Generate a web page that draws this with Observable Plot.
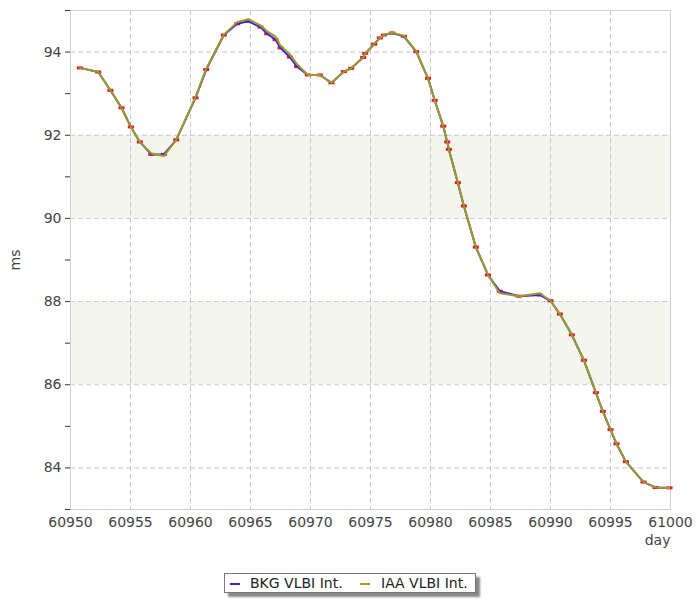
<!DOCTYPE html>
<html><head><meta charset="utf-8">
<script src="https://cdn.jsdelivr.net/npm/d3@7"></script>
<script src="https://cdn.jsdelivr.net/npm/@observablehq/plot@0.6"></script>
<style>
body{margin:0;background:#fff;font-family:"DejaVu Sans",Verdana,sans-serif;}
#chart{width:700px;color:#444;}
#legendWrap{position:relative;width:700px;height:38px;}
#legend{position:absolute;left:224px;top:11px;width:250px;height:18px;border:1px solid #777;background:#fff;box-shadow:4px 4px 2px #888;font-size:14px;color:#222;}
#legend .sw{position:absolute;top:9px;width:10px;height:2px;}
#legend .tx{position:absolute;top:1px;line-height:16px;white-space:nowrap;}
</style></head><body>
<div id="chart"></div>
<div id="legendWrap"><div id="legend"></div></div>
<script>
// ---- data ----
const days = [60950.78,60952.31,60953.33,60954.25,60955.03,60955.78,60956.73,60957.78,60958.81,60960.42,
  60961.31,60962.78,60963.89,60964.81,60965.83,60966.39,60967.08,60967.50,60968.28,60968.88,
  60969.78,60970.78,60971.75,60972.78,60973.39,60974.39,60974.56,60975.31,60975.78,60976.11,
  60976.81,60977.78,60978.81,60979.79,60980.35,60981.06,60981.39,60981.53,60982.28,60982.78,
  60983.78,60984.79,60985.77,60987.36,60989.11,60990.00,60990.78,60991.78,60992.78,60993.78,
  60994.36,60995.00,60995.50,60996.28,60997.75,60998.75,60999.92];
const bkgMs = [93.62,93.52,93.08,92.66,92.20,91.84,91.54,91.54,91.89,92.90,
  93.58,94.41,94.68,94.74,94.60,94.44,94.30,94.10,93.88,93.65,
  93.45,93.45,93.26,93.53,93.61,93.87,93.97,94.19,94.34,94.41,
  94.46,94.38,94.01,93.37,92.84,92.22,91.84,91.66,90.86,90.30,
  89.31,88.64,88.25,88.13,88.16,88.02,87.70,87.20,86.59,85.81,
  85.36,84.92,84.58,84.15,83.66,83.53,83.52];
const iaaMs = [93.62,93.52,93.08,92.66,92.20,91.84,91.56,91.50,91.89,92.92,
  93.60,94.42,94.72,94.79,94.64,94.50,94.37,94.16,93.94,93.71,
  93.45,93.45,93.26,93.53,93.61,93.87,93.97,94.19,94.34,94.41,
  94.47,94.39,94.02,93.37,92.84,92.22,91.84,91.66,90.86,90.30,
  89.31,88.64,88.20,88.13,88.20,88.02,87.70,87.20,86.59,85.81,
  85.36,84.92,84.58,84.15,83.66,83.53,83.52];
const seriesNames = ["BKG VLBI Int.", "IAA VLBI Int."];
const seriesColors = ["#3a22f0", "#9c9c24"];
const bandLows = [86, 90];
const bandHighs = [88, 92];
const xTicks = [60950,60955,60960,60965,60970,60975,60980,60985,60990,60995,61000];
const yTicks = [83,84,85,86,87,88,89,90,91,92,93,94,95];
const yLabels = [84,86,88,90,92,94];
const xTitle = "day";
const yTitle = "ms";

// ---- tables built from the arrays ----
const bkg = days.map((d,i)=>({day:d, ms:bkgMs[i]}));
const iaa = days.map((d,i)=>({day:d, ms:iaaMs[i]}));
const bands = bandLows.map((lo,i)=>({lo, hi:bandHighs[i]}));
const errSymbol = {draw(ctx){ ctx.moveTo(-3,-1.5); ctx.lineTo(3,-1.5); ctx.lineTo(3,1.5); ctx.lineTo(-3,1.5); ctx.closePath(); }};

const chart = Plot.plot({
  width: 700, height: 562,
  marginLeft: 70, marginRight: 30, marginTop: 10, marginBottom: 53,
  style: {fontFamily: '"DejaVu Sans", Verdana, sans-serif', fontSize: "14px", color: "#444", background: "#fff"},
  x: {domain: [60950, 61000]},
  y: {domain: [83, 95]},
  marks: [
    Plot.rectY(bands, {y1: "lo", y2: "hi", fill: "#f5f5f0"}),
    Plot.ruleY(yLabels, {stroke: "#c8c8c8", strokeDasharray: "5,3"}),
    Plot.ruleX(xTicks.slice(1, -1), {stroke: "#c8c8c8", strokeDasharray: "5,3"}),
    Plot.frame({stroke: "#d0d0d0"}),
    Plot.axisY({ticks: yTicks, tickSize: 5, tickPadding: 4, stroke: "#333",
      tickFormat: d => yLabels.includes(d) ? String(d) : "",
      fontSize: 14, label: yTitle, labelAnchor: "center", labelOffset: 60, labelArrow: "none"}),
    Plot.axisX({ticks: xTicks, tickSize: 0, tickPadding: 8, tickFormat: d => String(d),
      fontSize: 14, label: null}),
    Plot.text([xTitle], {text: d => d, frameAnchor: "bottom-right", textAnchor: "end", dy: 35, dx: 0, fontSize: 14, fill: "#444"}),
    Plot.dot(bkg, {x: "day", y: "ms", symbol: errSymbol, r: 3, fill: "#ff1010", stroke: "none"}),
    Plot.line(bkg, {x: "day", y: "ms", stroke: seriesColors[0], strokeWidth: 2}),
    Plot.line(iaa, {x: "day", y: "ms", stroke: seriesColors[1], strokeWidth: 2})
  ]
});
document.getElementById("chart").appendChild(chart);

// legend
const lg = document.getElementById("legend");
const swLeft = [5, 135], txLeft = [25, 156];
seriesNames.forEach((name, i) => {
  const sw = document.createElement("div");
  sw.className = "sw"; sw.style.left = swLeft[i] + "px"; sw.style.background = seriesColors[i];
  const tx = document.createElement("div");
  tx.className = "tx"; tx.style.left = txLeft[i] + "px"; tx.textContent = name;
  lg.appendChild(sw); lg.appendChild(tx);
});
</script>
</body></html>
